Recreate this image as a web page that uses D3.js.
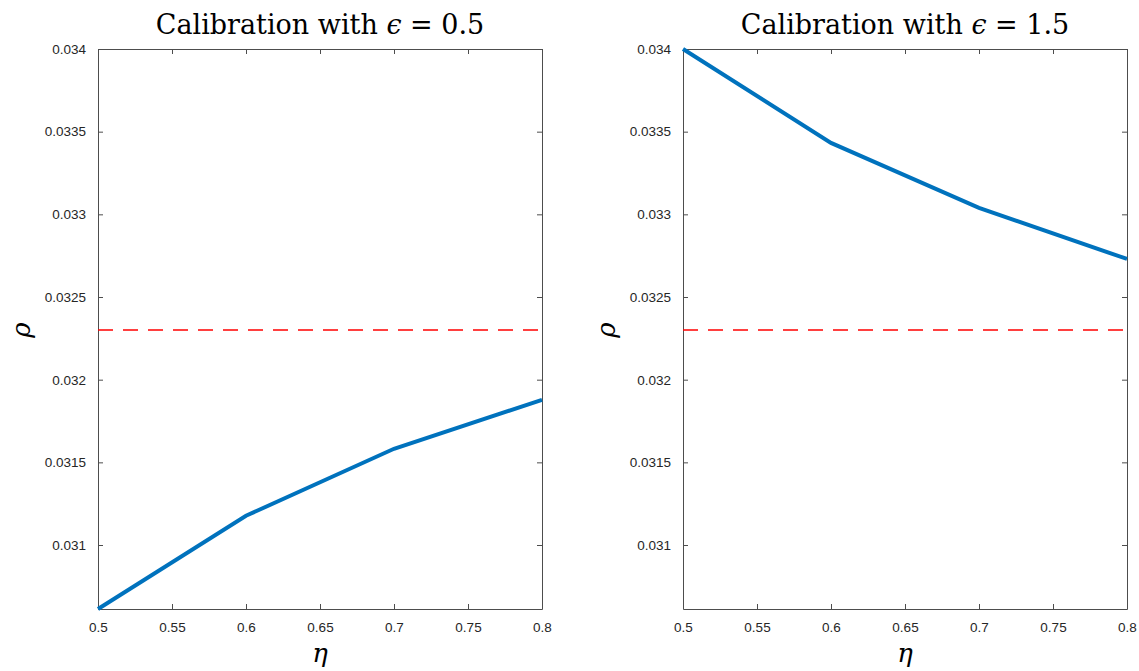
<!DOCTYPE html>
<html>
<head>
<meta charset="utf-8">
<script src="https://cdn.jsdelivr.net/npm/d3@7"></script>
<style>
    body { margin: 0; background: #fff; }
</style>
</head>
<body>
<div id="chart"></div>
<script>
var eta = [0.5, 0.6, 0.7, 0.8];
var rhoEps05 = [0.030613, 0.031177, 0.031582, 0.031878];
var rhoEps15 = [0.034, 0.033432, 0.033039, 0.03273];
var rhoTarget = 0.0323;
var xTicks = [0.5, 0.55, 0.6, 0.65, 0.7, 0.75, 0.8];
var yTicks = [0.031, 0.0315, 0.032, 0.0325, 0.033, 0.0335, 0.034];
var titles = ["0.5", "1.5"];

var panels = [
    { left: 98, values: rhoEps05, eps: titles[0] },
    { left: 683, values: rhoEps15, eps: titles[1] }
];

var W = 1139, H = 671;
var plotW = 444, plotH = 560, plotTop = 49;

var svg = d3.select("#chart").append("svg")
    .attr("width", W)
    .attr("height", H);

var axisColor = "#4d4d4d";

panels.forEach(function (p) {
    var g = svg.append("g")
        .attr("transform", "translate(" + p.left + "," + plotTop + ")");

    var x = d3.scaleLinear().domain([0.5, 0.8]).range([0, plotW]);
    var y = d3.scaleLinear().domain([0.030613, 0.034]).range([plotH, 0]);

    // axes, ticks inward and mirrored on top/right
    var bottom = g.append("g")
        .attr("transform", "translate(0," + plotH + ")")
        .call(d3.axisBottom(x).tickValues(xTicks).tickSizeInner(-5).tickSizeOuter(0).tickPadding(13).tickFormat(d3.format("")));
    var topAx = g.append("g")
        .call(d3.axisTop(x).tickValues(xTicks).tickSizeInner(-5).tickSizeOuter(0).tickFormat(""));
    var leftAx = g.append("g")
        .call(d3.axisLeft(y).tickValues(yTicks).tickSizeInner(-5).tickSizeOuter(0).tickPadding(12).tickFormat(d3.format("")));
    var rightAx = g.append("g")
        .attr("transform", "translate(" + plotW + ",0)")
        .call(d3.axisRight(y).tickValues(yTicks).tickSizeInner(-5).tickSizeOuter(0).tickFormat(""));

    [bottom, topAx, leftAx, rightAx].forEach(function (a) {
        a.selectAll("path, line").attr("stroke", axisColor).attr("stroke-width", 1);
        a.selectAll("text")
            .style("font-family", "'Liberation Sans', Arial, sans-serif")
            .style("font-size", "13.5px")
            .attr("fill", "#262626");
    });

    // target line
    g.append("line")
        .attr("x1", x(0.5))
        .attr("x2", x(0.8))
        .attr("y1", y(rhoTarget))
        .attr("y2", y(rhoTarget))
        .attr("stroke", "#ff0000")
        .attr("stroke-width", 1.5)
        .attr("stroke-dasharray", "15,10");

    var line = d3.line()
        .x(function (d, i) { return x(eta[i]); })
        .y(function (d) { return y(d); });

    g.append("path")
        .datum(p.values)
        .attr("d", line)
        .attr("fill", "none")
        .attr("stroke", "#0072BD")
        .attr("stroke-width", 4);

    // title
    var t = svg.append("text")
        .attr("x", p.left + plotW / 2)
        .attr("y", 34)
        .attr("text-anchor", "middle")
        .style("font-family", "'DejaVu Serif', serif")
        .style("font-size", "27px")
        .attr("fill", "#000");
    t.append("tspan").text("Calibration with ");
    t.append("tspan").style("font-style", "italic").text("ϵ");
    t.append("tspan").text(" = " + p.eps);

    // axis labels
    svg.append("text")
        .attr("x", p.left + plotW / 2)
        .attr("y", 662)
        .attr("text-anchor", "middle")
        .style("font-family", "'DejaVu Serif', serif")
        .style("font-style", "italic")
        .style("font-size", "26px")
        .text("η");

    svg.append("text")
        .attr("transform", "translate(" + (p.left - 68) + "," + (plotTop + y(rhoTarget)) + ") rotate(-90)")
        .attr("text-anchor", "middle")
        .style("font-family", "'DejaVu Serif', serif")
        .style("font-style", "italic")
        .style("font-size", "26px")
        .text("ρ");
});
</script>
</body>
</html>
